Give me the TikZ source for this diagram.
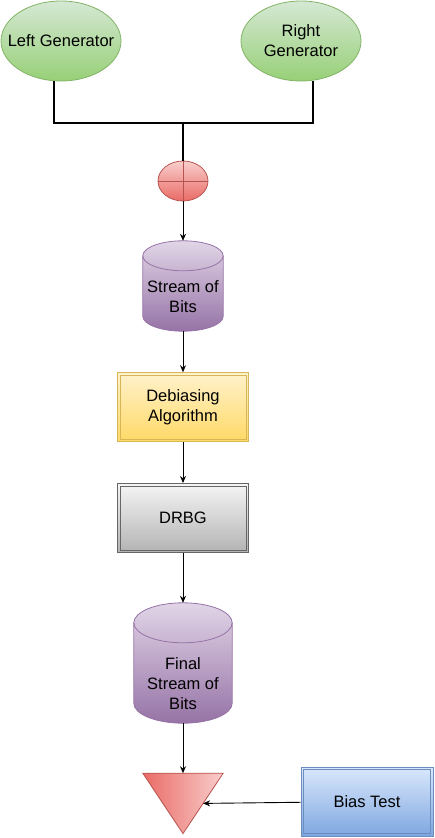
\documentclass[tikz,border=0pt]{standalone}
\usepackage{fontspec}
\setmainfont{Liberation Sans}
\usetikzlibrary{arrows.meta,positioning,shapes.geometric,calc,backgrounds}
\definecolor{gtop}{HTML}{D5E8D4}
\definecolor{gbot}{HTML}{97D077}
\definecolor{gline}{HTML}{82B366}
\definecolor{rtop}{HTML}{F8CECC}
\definecolor{rbot}{HTML}{EA6B66}
\definecolor{rline}{HTML}{B85450}
\definecolor{ptop}{HTML}{E1D5E7}
\definecolor{pbot}{HTML}{9673A6}
\definecolor{ytop}{HTML}{FFF2CC}
\definecolor{ybot}{HTML}{FFD966}
\definecolor{yline}{HTML}{D6B656}
\definecolor{stop}{HTML}{F5F5F5}
\definecolor{sbot}{HTML}{B3B3B3}
\definecolor{sline}{HTML}{666666}
\definecolor{btop}{HTML}{DAE8FC}
\definecolor{bbot}{HTML}{7EA6E0}
\definecolor{bline}{HTML}{6C8EBF}
\tikzset{dbl/.style={path picture={\draw[#1, line width=0.8pt] ([shift={(2.5pt,-2.5pt)}]path picture bounding box.north west) rectangle ([shift={(-2.5pt,2.5pt)}]path picture bounding box.south east);}}}
\tikzstyle{gen}  = [ellipse, draw=gline, line width=0.8pt, top color=gtop, bottom color=gbot, minimum width=120pt, minimum height=80pt, align=center, inner sep=0pt]
\tikzstyle{xor}  = [ellipse, draw=rline, line width=0.8pt, top color=rtop, bottom color=rbot, minimum width=50pt, minimum height=40pt, inner sep=0pt, path picture={\draw[rline, line width=0.8pt] (path picture bounding box.north) -- (path picture bounding box.south) (path picture bounding box.west) -- (path picture bounding box.east);}]
\tikzstyle{drumbox} = [rectangle, inner sep=0pt]
\tikzstyle{drum} = [draw=pbot, line width=0.8pt, top color=ptop, bottom color=pbot]
\tikzstyle{box}  = [rectangle, minimum width=131pt, minimum height=69pt, align=center, inner sep=0pt, line width=0.8pt]
\tikzstyle{ybox} = [box, draw=yline, top color=ytop, bottom color=ybot, dbl=yline]
\tikzstyle{sbox} = [box, draw=sline, top color=stop, bottom color=sbot, dbl=sline]
\tikzstyle{bbox} = [box, draw=bline, top color=btop, bottom color=bbot, dbl=bline, minimum width=132pt]
\tikzstyle{tri}  = [draw=rline, line width=0.8pt, left color=rbot, right color=rtop]
\tikzstyle{wire} = [black, line width=1.6pt]
\tikzstyle{flow} = [black, line width=0.9pt, -{Stealth[length=7pt,width=6pt]}]
% cylinder drawn round an empty node: #1 node, #2 radius of the cap
\newcommand{\drumshape}[2]{%
  \draw[drum] let \p1 = ($(#1.east)-(#1.west)$) in
    ($(#1.north west)+(0,-#2)$) -- ($(#1.south west)+(0,#2)$)
    arc[start angle=180, end angle=360, x radius=0.5*\x1, y radius=#2pt]
    -- ($(#1.north east)+(0,-#2)$)
    arc[start angle=0, end angle=180, x radius=0.5*\x1, y radius=#2pt] -- cycle;
  \draw[pbot, line width=0.8pt] let \p1 = ($(#1.east)-(#1.west)$) in
    ($(#1.north west)+(0,-#2)$)
    arc[start angle=180, end angle=360, x radius=0.5*\x1, y radius=#2pt];
}

\begin{document}
\begin{tikzpicture}[x=1pt, y=1pt, font=\fontsize{16.5}{20}\selectfont]
		\useasboundingbox (0,0) rectangle (435,-838);

		\node[gen] (lgen) at (61,-41)  {\makebox[70pt]{Left Generator}};
		\node[gen] (rgen) at (301,-41) {Right\\Generator};
		\coordinate (joint) at (183,-123);
		\node[xor] (xor) at (183,-181) {};

		\node[drumbox, minimum width=80pt, minimum height=90pt,
			label={[align=center, yshift=-10.5pt]center:Stream of\\Bits}] (bits) at (183,-286) {};
		\node[ybox] (debias) [below=41pt of bits]   {Debiasing\\Algorithm};
		\node[sbox] (drbg)   [below=41pt of debias] {DRBG};
		\node[drumbox, minimum width=98pt, minimum height=120pt,
			label={[align=center, yshift=-20.5pt]center:Final\\Stream of\\Bits}] (final) [below=50pt of drbg] {};
		\node[drumbox, minimum width=80pt, minimum height=60pt] (sink) [below=50pt of final] {};
		\node[bbox] (bias) at (367,-801.5) {Bias Test};

		\begin{scope}[on background layer]
			\drumshape{bits}{15}
			\drumshape{final}{20}
		\end{scope}
		\draw[tri] (sink.north west) -- (sink.north east) -- (sink.south) -- cycle;
		\coordinate (sinkside) at ($(sink.north east)!0.5!(sink.south)$);

		\draw[wire] ([xshift=-7pt]lgen.south) |- (joint) -| ([xshift=12pt]rgen.south);
		\draw[wire] (joint) -- (xor.north);
		\draw[flow] (xor) -- (bits);
		\draw[flow] (bits) -- (debias);
		\draw[flow] (debias) -- (drbg);
		\draw[flow] (drbg) -- (final);
		\draw[flow] (final) -- (sink);
		\draw[flow] (bias) -- (sinkside);
	\end{tikzpicture}
\end{document}
